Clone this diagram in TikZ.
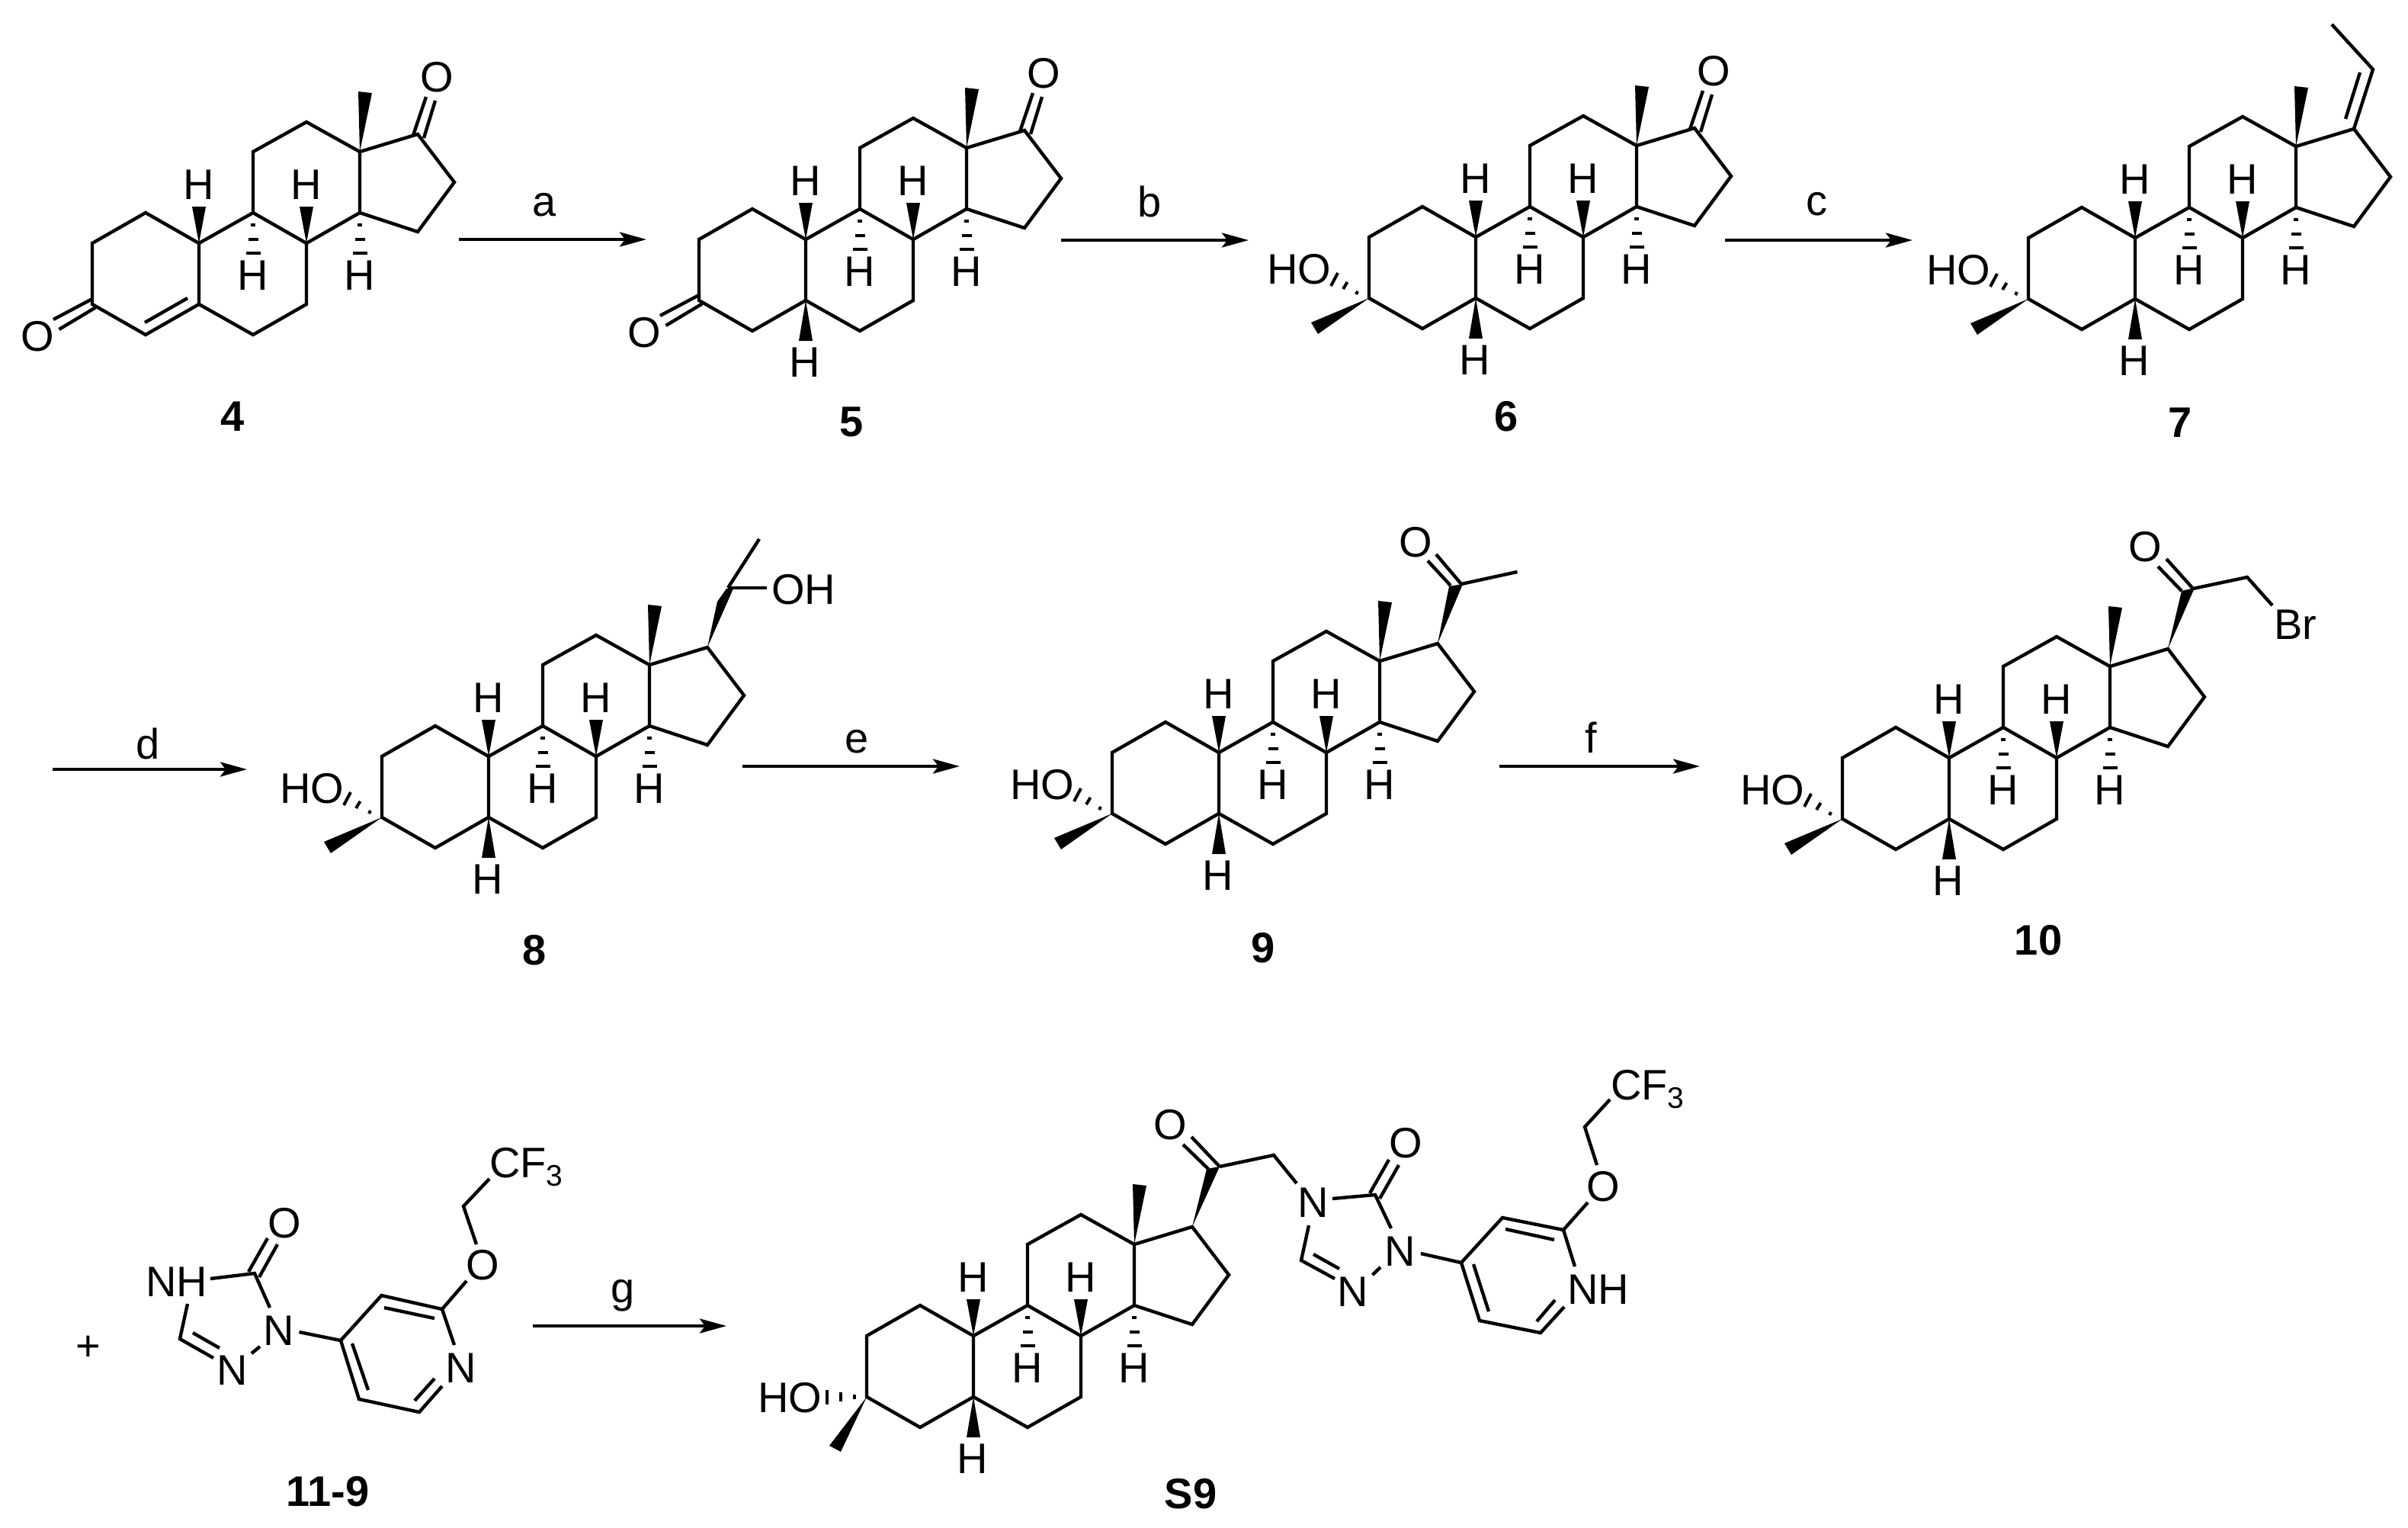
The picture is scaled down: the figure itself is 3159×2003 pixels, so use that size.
\documentclass[tikz,border=0pt]{standalone}
\usepackage{fontspec}
\setmainfont{Liberation Sans}
\usetikzlibrary{arrows.meta}
\tikzset{
  bond/.style={line width=4.4pt,line join=miter,line cap=butt,draw=black},
  hashb/.style={line width=4pt,line cap=butt,draw=black},
  wedgef/.style={fill=black,draw=none},
  atom/.style={font=\fontsize{56}{60}\selectfont,inner sep=0pt,text=black},
  subatom/.style={font=\fontsize{56}{60}\selectfont,inner sep=0pt,anchor=base west,text=black},
  cmpd/.style={font=\bfseries\fontsize{56}{60}\selectfont,inner sep=0pt,anchor=base,text=black},
  reagent/.style={font=\fontsize{56}{60}\selectfont,inner sep=0pt,anchor=base,text=black},
  rxn/.style={line width=4.2pt,draw=black,-{Stealth[length=35pt,width=19pt,inset=7pt]}}
}
% common steroid core: rings, C13 methyl, ring-fusion H atoms
\newcommand{\molcore}[3]{%
\begin{scope}[shift={(#2,#3)}]
  \coordinate (#1c1) at (-70,-40);
  \coordinate (#1c2) at (-140,0);
  \coordinate (#1c3) at (-140,80);
  \coordinate (#1c4) at (-70,120);
  \coordinate (#1c5) at (0,80);
  \coordinate (#1c6) at (71,120);
  \coordinate (#1c7) at (141,80);
  \coordinate (#1c8) at (141,0);
  \coordinate (#1c9) at (71,-40);
  \coordinate (#1c10) at (0,0);
  \coordinate (#1c11) at (71,-120);
  \coordinate (#1c12) at (141,-159);
  \coordinate (#1c13) at (211,-120);
  \coordinate (#1c14) at (211,-40);
  \coordinate (#1c15) at (287,-15);
  \coordinate (#1c16) at (335,-80);
  \coordinate (#1c17) at (287,-143);
  \draw[bond] (#1c5) -- (#1c4) -- (#1c3) -- (#1c2) -- (#1c1) -- (#1c10) -- (#1c9) -- (#1c8) -- (#1c14) -- (#1c13) -- (#1c12) -- (#1c11) -- (#1c9);
  \draw[bond] (#1c10) -- (#1c5) -- (#1c6) -- (#1c7) -- (#1c8);
  \draw[bond] (#1c14) -- (#1c15) -- (#1c16) -- (#1c17) -- (#1c13);
  \fill[wedgef] (#1c13) -- (209,-199) -- (227,-197) -- cycle;
  \fill[wedgef] (#1c10) -- (-9,-48) -- (9,-48) -- cycle;
  \fill[wedgef] (#1c8) -- (132,-48) -- (150,-48) -- cycle;
  \draw[hashb] (68,-24) -- (74,-24) (64.5,-5) -- (77.5,-5) (61.5,13) -- (80.5,13);
  \draw[hashb] (208,-24) -- (214,-24) (204.5,-5) -- (217.5,-5) (201.5,13) -- (220.5,13);
  \node[atom] (#1H10) at (0,-77) {H};
  \node[atom] (#1H8) at (141,-77) {H};
  \node[atom] (#1H9) at (71,42) {H};
  \node[atom] (#1H14) at (211,42) {H};
\end{scope}}
% H at C5
\newcommand{\hfive}[3]{%
\begin{scope}[shift={(#2,#3)}]
  \fill[wedgef] (#1c5) -- (-9,133) -- (9,133) -- cycle;
  \node[atom] (#1H5) at (-1,161) {H};
\end{scope}}
% 3-alpha OH, 3-beta methyl
\newcommand{\hothree}[3]{%
\begin{scope}[shift={(#2,#3)}]
  \fill[wedgef] (#1c3) -- (-216,112) -- (-207,127) -- cycle;
  \draw[hashb] (-190,64) -- (-181,47) (-174,68) -- (-168.5,59) (-157,75) -- (-155,71);
  \node[atom] (#1OH3) at (-232,42) {HO};
\end{scope}}
% 3-ketone
\newcommand{\ketthree}[3]{%
\begin{scope}[shift={(#2,#3)}]
  \draw[bond] (-140,73) -- (-191,100) (-136,84.5) -- (-183.5,113);
  \node[atom] (#1O3) at (-212,122) {O};
\end{scope}}
% 17-ketone
\newcommand{\ketseventeen}[3]{%
\begin{scope}[shift={(#2,#3)}]
  \draw[bond] (281,-141.5) -- (298,-192) (295,-138) -- (310,-187);
  \node[atom] (#1O17) at (312,-218) {O};
\end{scope}}
\begin{document}
\begin{tikzpicture}[x=1pt,y=-1pt]
\useasboundingbox (0,0) rectangle (3159,2003);
\fill[white] (0,0) rectangle (3159,2003);

% ---- 4
\molcore{a}{261}{319}
\ketthree{a}{261}{319}
\ketseventeen{a}{261}{319}
\begin{scope}[shift={(261,319)}]
  \draw[bond] (-71,104) -- (-15,72);
\end{scope}
\node[cmpd] (l4) at (305,565) {4};

% ---- 5
\molcore{b}{1057}{314}
\hfive{b}{1057}{314}
\ketthree{b}{1057}{314}
\ketseventeen{b}{1057}{314}
\node[cmpd] (l5) at (1117,572) {5};

% ---- 6
\molcore{c}{1936}{311}
\hfive{c}{1936}{311}
\hothree{c}{1936}{311}
\ketseventeen{c}{1936}{311}
\node[cmpd] (l6) at (1976,565) {6};

% ---- 7
\molcore{d}{2801}{312}
\hfive{d}{2801}{312}
\hothree{d}{2801}{312}
\coordinate (d20) at (3113,91);
\coordinate (d21) at (3059,32);
\coordinate (d20i) at (3096,95);
\coordinate (d17i) at (3077,156);
\draw[bond] (dc17) -- (d20) -- (d21);
\draw[bond] (d20i) -- (d17i);
\node[cmpd] (l7) at (2860,573) {7};

% ---- 8
\molcore{e}{641}{992}
\hfive{e}{641}{992}
\hothree{e}{641}{992}
\coordinate (e20) at (955,771);
\coordinate (e21) at (996,707);
\fill[wedgef] (ec17) -- (941,789) -- (953,772) -- (962,772) -- cycle;
\node[atom,anchor=west] (eOH) at (1012,773) {OH};
\draw[bond] (e20) -- (e21);
\coordinate (eOHb) at (1006,771);
\draw[bond] (e20) -- (eOHb);
\node[cmpd] (l8) at (701,1265) {8};

% ---- 9
\molcore{f}{1599}{987}
\hfive{f}{1599}{987}
\hothree{f}{1599}{987}
\coordinate (f20) at (1917,766);
\coordinate (f21) at (1990.5,750);
\fill[wedgef] (fc17) -- (1901,769) -- (1919,766) -- cycle;
\draw[bond] (f20) -- (f21);
\coordinate (fd1) at (1884,727);
\coordinate (fd2) at (1873,735.5);
\coordinate (fd3) at (1903,768);
\draw[bond] (f20) -- (fd1) (fd3) -- (fd2);
\node[atom] (fO) at (1857,711) {O};
\node[cmpd] (l9) at (1657,1262) {9};

% ---- 10
\molcore{g}{2557}{994}
\hfive{g}{2557}{994}
\hothree{g}{2557}{994}
\coordinate (g20) at (2877,772);
\coordinate (g21) at (2948,757);
\coordinate (gBrb) at (2981,794);
\fill[wedgef] (gc17) -- (2862,775) -- (2879,771) -- cycle;
\draw[bond] (g20) -- (g21) -- (gBrb);
\coordinate (gd1) at (2842,733);
\coordinate (gd2) at (2831,743);
\coordinate (gd3) at (2862,775);
\draw[bond] (g20) -- (gd1) (gd3) -- (gd2);
\node[atom] (gO) at (2814,717) {O};
\node[atom] (gBr) at (3011,819) {Br};
\node[cmpd] (l10) at (2674,1252) {10};

% ---- 11-9
\node[atom] (plus) at (116,1768) {+};
\node[atom] (hNH) at (232,1681) {NH};
\node[atom] (hO1) at (373,1604) {O};
\node[atom] (hN1) at (366,1745) {N};
\node[atom] (hN2) at (305,1797) {N};
\node[atom] (hN3) at (604.5,1794) {N};
\node[atom] (hO2) at (633,1659) {O};
\node[subatom] (hCF) at (642,1544) {CF\raisebox{-11pt}{\fontsize{39}{40}\selectfont 3}};
\coordinate (hc5) at (334,1670);
\coordinate (ha1) at (276,1677);
\coordinate (ha2) at (354,1715);
\coordinate (hb1) at (326,1668);
\coordinate (hb2) at (351,1624);
\coordinate (hb3) at (340,1675);
\coordinate (hb4) at (364,1632);
\coordinate (hd1) at (246,1710);
\coordinate (hd2) at (236,1756);
\coordinate (hd3) at (280,1781);
\coordinate (hd4) at (253,1748);
\coordinate (hd5) at (288,1768);
\coordinate (he1) at (330,1775);
\coordinate (he2) at (341,1766);
\coordinate (hf1) at (392.5,1747);
\coordinate (hp4) at (447,1758);
\coordinate (hp3) at (500.5,1699);
\coordinate (hp2) at (580,1717);
\coordinate (hpn) at (596,1764);
\coordinate (hp6) at (550,1852);
\coordinate (hp5) at (471,1835);
\coordinate (hpm) at (580,1818);
\coordinate (hi1) at (504,1715);
\coordinate (hi2) at (570,1729);
\coordinate (hi3) at (462,1762);
\coordinate (hi4) at (483,1823);
\coordinate (hi5) at (544,1837);
\coordinate (hi6) at (570,1808);
\coordinate (ho1) at (612,1680);
\coordinate (ho2) at (625,1632);
\coordinate (ho3) at (608,1582);
\coordinate (ho4) at (642,1546);
\draw[bond] (ha1) -- (hc5) -- (ha2);
\draw[bond] (hb1) -- (hb2) (hb3) -- (hb4);
\draw[bond] (hd1) -- (hd2) -- (hd3);
\draw[bond] (hd4) -- (hd5);
\draw[bond] (he1) -- (he2);
\draw[bond] (hf1) -- (hp4) -- (hp3) -- (hp2) -- (hpn);
\draw[bond] (hp4) -- (hp5) -- (hp6) -- (hpm);
\draw[bond] (hi1) -- (hi2) (hi3) -- (hi4) (hi5) -- (hi6);
\draw[bond] (hp2) -- (ho1);
\draw[bond] (ho2) -- (ho3) -- (ho4);
\node[cmpd] (l11) at (430,1975) {11-9};

% ---- S9
\molcore{s}{1277}{1752}
\hfive{s}{1277}{1752}
\fill[wedgef] (sc3) -- (1088,1896) -- (1103,1904) -- cycle;
\draw[hashb] (1085,1822.5) -- (1085,1841.5) (1103,1826) -- (1103,1838) (1121,1829) -- (1121,1835);
\node[atom] (sOH3) at (1036,1833) {HO};
\coordinate (s20) at (1600,1530);
\coordinate (s21) at (1671,1515);
\coordinate (s22) at (1701,1552);
\fill[wedgef] (sc17) -- (1583,1533) -- (1600,1530) -- cycle;
\draw[bond] (s20) -- (s21) -- (s22);
\coordinate (sd1) at (1563,1491);
\coordinate (sd2) at (1552,1501);
\coordinate (sd3) at (1585,1533);
\draw[bond] (s20) -- (sd1) (sd3) -- (sd2);
\node[atom] (sO) at (1535,1475) {O};
\node[atom] (sN4) at (1723,1577) {N};
\node[atom] (sO1) at (1844,1499) {O};
\node[atom] (sN1) at (1837,1641) {N};
\node[atom] (sN2) at (1775,1694) {N};
\node[atom,anchor=west] (sNH) at (2056,1691) {NH};
\node[atom] (sO2) at (2103,1556) {O};
\node[subatom] (sCF) at (2113,1442) {CF\raisebox{-11pt}{\fontsize{39}{40}\selectfont 3}};
\coordinate (sc5x) at (1804,1567);
\coordinate (sa1) at (1748,1572);
\coordinate (sa2) at (1825,1611);
\coordinate (sb1) at (1797,1565);
\coordinate (sb2) at (1822,1521);
\coordinate (sb3) at (1810,1572);
\coordinate (sb4) at (1835,1528);
\coordinate (se1) at (1717,1607);
\coordinate (se2) at (1707,1653);
\coordinate (se3) at (1751,1677);
\coordinate (se4) at (1723,1645);
\coordinate (se5) at (1757,1664);
\coordinate (sf1) at (1800.5,1672);
\coordinate (sf2) at (1811,1662);
\coordinate (sg1) at (1864,1644);
\coordinate (sp4) at (1917,1656);
\coordinate (sp3) at (1971,1597);
\coordinate (sp2) at (2051,1613);
\coordinate (spn) at (2066,1661);
\coordinate (sp6) at (2021,1748);
\coordinate (sp5) at (1941,1732);
\coordinate (spm) at (2052,1714);
\coordinate (si1) at (1975,1612);
\coordinate (si2) at (2039,1626);
\coordinate (si3) at (1933,1658);
\coordinate (si4) at (1953,1720);
\coordinate (si5) at (2016,1733);
\coordinate (si6) at (2040,1705);
\coordinate (so1) at (2083,1577);
\coordinate (so2) at (2095,1528);
\coordinate (so3) at (2079,1478);
\coordinate (so4) at (2112,1442);
\draw[bond] (sa1) -- (sc5x) -- (sa2);
\draw[bond] (sb1) -- (sb2) (sb3) -- (sb4);
\draw[bond] (se1) -- (se2) -- (se3);
\draw[bond] (se4) -- (se5);
\draw[bond] (sf1) -- (sf2);
\draw[bond] (sg1) -- (sp4) -- (sp3) -- (sp2) -- (spn);
\draw[bond] (sp4) -- (sp5) -- (sp6) -- (spm);
\draw[bond] (si1) -- (si2) (si3) -- (si4) (si5) -- (si6);
\draw[bond] (sp2) -- (so1);
\draw[bond] (so2) -- (so3) -- (so4);
\node[cmpd] (lS9) at (1562,1978) {S9};

% ---- reaction arrows
\coordinate (ra1) at (602,314);  \coordinate (ra2) at (848,314);
\coordinate (rb1) at (1392,315); \coordinate (rb2) at (1638,315);
\coordinate (rc1) at (2263,315); \coordinate (rc2) at (2509,315);
\coordinate (rd1) at (69,1009);  \coordinate (rd2) at (324,1009);
\coordinate (re1) at (974,1005); \coordinate (re2) at (1259,1005);
\coordinate (rf1) at (1967,1005);\coordinate (rf2) at (2230,1005);
\coordinate (rg1) at (699,1739); \coordinate (rg2) at (953,1739);
\draw[rxn] (ra1) -- (ra2);
\draw[rxn] (rb1) -- (rb2);
\draw[rxn] (rc1) -- (rc2);
\draw[rxn] (rd1) -- (rd2);
\draw[rxn] (re1) -- (re2);
\draw[rxn] (rf1) -- (rf2);
\draw[rxn] (rg1) -- (rg2);
\node[reagent] (ta) at (714,283) {a};
\node[reagent] (tb) at (1508,284) {b};
\node[reagent] (tc) at (2383,282) {c};
\node[reagent] (td) at (194,995) {d};
\node[reagent] (te) at (1124,987) {e};
\node[reagent] (tf) at (2087,987) {f};
\node[reagent] (tg) at (817,1708) {g};
\end{tikzpicture}
\end{document}
